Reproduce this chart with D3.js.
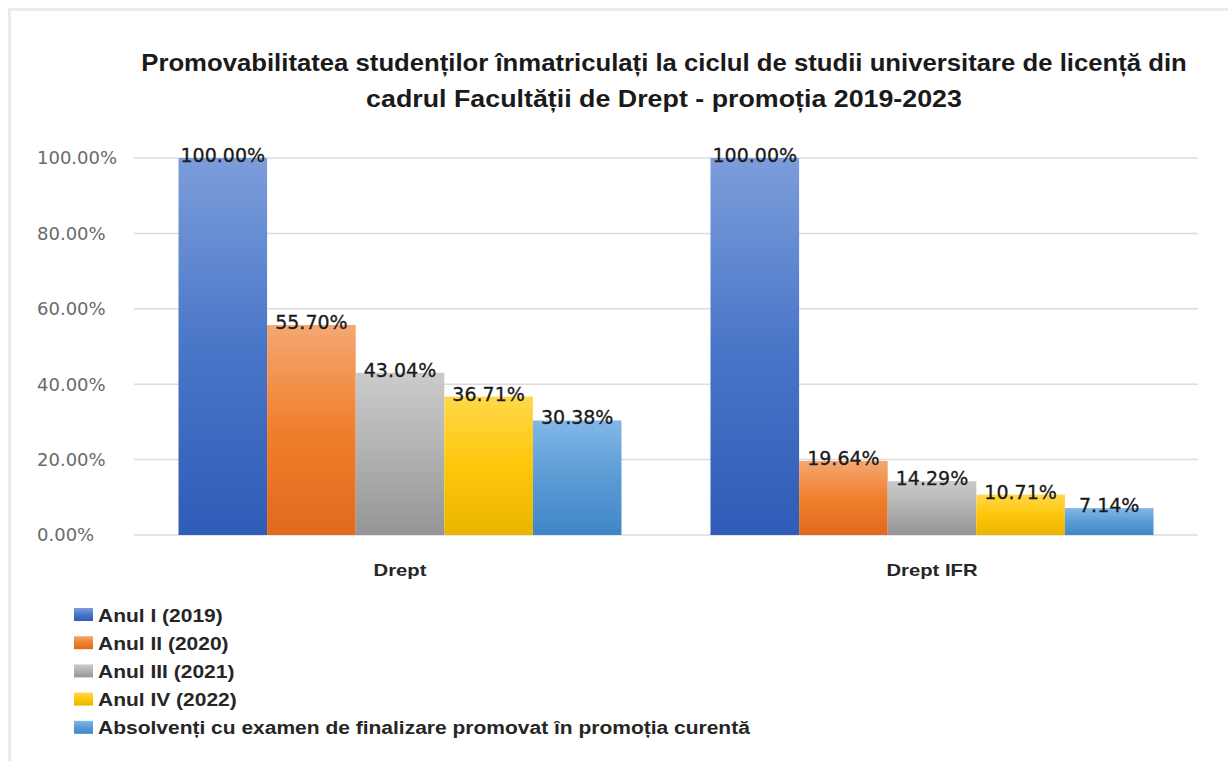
<!DOCTYPE html>
<html lang="ro">
<head>
<meta charset="UTF-8">
<title>Promovabilitate Drept 2019-2023</title>
<script src="https://d3js.org/d3.v7.min.js"></script>
<style>
  body { margin: 0; background: #fff; }
  svg { display: block; }
  .tick-label { font-family: 'DejaVu Sans', sans-serif; font-size: 18px; fill: #6a6a6a; }
  .data-label { font-family: 'DejaVu Sans', sans-serif; font-size: 19px; fill: #1a1a1a; stroke: #1a1a1a; stroke-width: 0.3px; }
  .cat-label { font-family: 'Liberation Sans', Arial, sans-serif; font-size: 17px; font-weight: bold; fill: #262626; }
  .legend-label { font-family: 'Liberation Sans', Arial, sans-serif; font-size: 18px; font-weight: bold; fill: #262626; }
  .title { font-family: 'Liberation Sans', Arial, sans-serif; font-size: 24px; font-weight: bold; fill: #1a1a1a; }
</style>
</head>
<body>
<svg width="1228" height="761"></svg>
<script>
// data
const categories = ["Drept", "Drept IFR"];
const seriesNames = [
  "Anul I (2019)",
  "Anul II (2020)",
  "Anul III (2021)",
  "Anul IV (2022)",
  "Absolvenți cu examen de finalizare promovat în promoția curentă"
];
const anulI = [1.0, 1.0];
const anulII = [0.557, 0.1964];
const anulIII = [0.4304, 0.1429];
const anulIV = [0.3671, 0.1071];
const absolventi = [0.3038, 0.0714];
const yTicks = [0, 0.2, 0.4, 0.6, 0.8, 1.0];
const titleLines = [
  "Promovabilitatea studenților înmatriculați la ciclul de studii universitare de licență din",
  "cadrul Facultății de Drept - promoția 2019-2023"
];

const values = [anulI, anulII, anulIII, anulIV, absolventi];
// gradient stops: top, middle, bottom
const palette = [
  ["#7c9ddb", "#4a76c8", "#2e5cb7"],
  ["#f4a872", "#f07f2c", "#e1691d"],
  ["#cbcbcb", "#b1b1b1", "#959595"],
  ["#ffd84a", "#ffc60a", "#e9b500"],
  ["#82b7e8", "#5b9bd5", "#3f86c7"]
];

const svg = d3.select("svg");
const defs = svg.append("defs");
palette.forEach((c, i) => {
  const g = defs.append("linearGradient")
    .attr("id", "grad" + i)
    .attr("x1", 0).attr("y1", 0).attr("x2", 0).attr("y2", 1);
  g.append("stop").attr("offset", "0%").attr("stop-color", c[0]);
  g.append("stop").attr("offset", "50%").attr("stop-color", c[1]);
  g.append("stop").attr("offset", "100%").attr("stop-color", c[2]);
});

// frame lines at top / left
svg.append("rect").attr("x", 8).attr("y", 8).attr("width", 1220).attr("height", 3).attr("fill", "#ececec");
svg.append("rect").attr("x", 8).attr("y", 8).attr("width", 3).attr("height", 753).attr("fill", "#ececec");

// stretch a text horizontally so it reaches a given width
function fitX(sel, width) {
  const w = sel.node().getComputedTextLength();
  return width / w;
}

// title
titleLines.forEach((t, i) => {
  const txt = svg.append("text")
    .attr("class", "title")
    .attr("text-anchor", "middle")
    .text(t);
  const sx = i === 0 ? fitX(txt, 1046) : fitX(txt, 596);
  txt.attr("transform", `translate(664,${71 + i * 36}) scale(${sx},1)`);
});

// scales
const x0 = d3.scaleBand().domain(categories).range([134, 1198]);
const x1 = d3.scaleBand().domain(d3.range(values.length))
  .range([44.5, x0.bandwidth() - 44.5]);
const y = d3.scaleLinear().domain([0, 1]).range([535, 158]);

// gridlines
svg.append("g").selectAll("line")
  .data(yTicks)
  .join("line")
  .attr("x1", 134).attr("x2", 1198)
  .attr("y1", d => y(d)).attr("y2", d => y(d))
  .attr("stroke", "#dcdcdc").attr("stroke-width", 1.5);

// y tick labels
svg.append("g").selectAll("text")
  .data(yTicks)
  .join("text")
  .attr("class", "tick-label")
  .attr("x", 37)
  .attr("y", d => y(d))
  .attr("dy", "0.36em")
  .text(d => d3.format(".2%")(d));

// bars
const groups = svg.append("g").selectAll("g")
  .data(categories)
  .join("g")
  .attr("transform", d => `translate(${x0(d)},0)`);

groups.selectAll("rect")
  .data((d, ci) => values.map((s, si) => ({ si, v: s[ci] })))
  .join("rect")
  .attr("x", d => x1(d.si))
  .attr("width", x1.bandwidth())
  .attr("y", d => y(d.v))
  .attr("height", d => y(0) - y(d.v))
  .attr("fill", d => `url(#grad${d.si})`);

groups.selectAll("text.data-label")
  .data((d, ci) => values.map((s, si) => ({ si, v: s[ci] })))
  .join("text")
  .attr("class", "data-label")
  .attr("text-anchor", "middle")
  .attr("x", d => x1(d.si) + x1.bandwidth() / 2)
  .attr("y", d => y(d.v) + 4)
  .text(d => d3.format(".2%")(d.v));

// category labels
const catText = svg.append("g").selectAll("text")
  .data(categories)
  .join("text")
  .attr("class", "cat-label")
  .attr("text-anchor", "middle")
  .text(d => d);
const catScale = fitX(catText.filter((d, i) => i === 1), 91);
catText.attr("transform", d => `translate(${x0(d) + x0.bandwidth() / 2},576) scale(${catScale},1)`);

// legend
const legend = svg.append("g").selectAll("g")
  .data(seriesNames)
  .join("g")
  .attr("transform", (d, i) => `translate(74,${608 + i * 28.2})`);

legend.append("rect")
  .attr("width", 19).attr("height", 13)
  .attr("fill", (d, i) => `url(#grad${i})`);

const legText = legend.append("text")
  .attr("class", "legend-label")
  .text(d => d);
const legScale = fitX(legText.filter((d, i) => i === 4), 652);
legText.attr("transform", `translate(24,13.5) scale(${legScale},1)`);
</script>
</body>
</html>
